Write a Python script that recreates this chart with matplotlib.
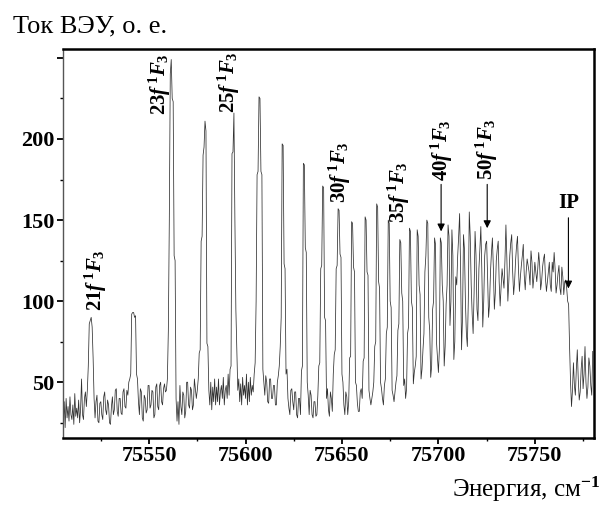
import matplotlib
matplotlib.use('Agg')
import matplotlib.pyplot as plt
from matplotlib.ticker import MultipleLocator
import numpy as np

plt.rcParams['font.family'] = ['Liberation Serif', 'DejaVu Serif']
plt.rcParams['mathtext.fontset'] = 'custom'
plt.rcParams['mathtext.rm'] = 'Liberation Serif:bold'
plt.rcParams['mathtext.it'] = 'Liberation Serif:italic:bold'
plt.rcParams['mathtext.bf'] = 'Liberation Serif:bold'

# spectrum, one reading per 0.5 cm-1 starting at 75505 (rows of 5 cm-1)
e_start = 75505
e_step = 0.5
signal = [
    32, 24, 38, 22, 40, 28, 35, 26, 41, 30,          # 75505
    27, 36, 24, 43, 29, 34, 28, 39, 25, 33,          # 75510
    52, 30, 27, 40, 44, 35, 45, 60, 86, 88,          # 75515
    90, 84, 65, 40, 28, 38, 42, 26, 25, 37,          # 75520
    38, 30, 27, 41, 44, 33, 30, 39, 36, 25,          # 75525
    24, 35, 41, 30, 33, 45, 46, 32, 29, 40,          # 75530
    40, 31, 30, 44, 46, 35, 34, 45, 42, 50,          # 75535
    52, 55, 92, 93, 93, 90, 91, 55, 52, 38,          # 75540
    30, 46, 44, 28, 26, 42, 40, 31, 33, 48,          # 75545
    48, 34, 36, 45, 44, 28, 30, 47, 49, 35,          # 75550
    33, 48, 50, 38, 36, 46, 49, 44, 45, 52,          # 75555
    82, 150, 240, 249, 225, 223, 128, 125, 40, 26,   # 75560
    38, 24, 48, 35, 30, 44, 42, 28, 32, 50,          # 75565
    50, 36, 34, 47, 45, 33, 36, 52, 46, 40,          # 75570
    45, 52, 68, 70, 137, 140, 190, 195, 211, 205,    # 75575
    74, 72, 45, 36, 50, 33, 47, 38, 52, 36,          # 75580
    47, 38, 52, 36, 44, 48, 40, 53, 36, 45,          # 75585
    48, 40, 55, 42, 58, 60, 191, 192, 216, 150,      # 75590
    95, 70, 45, 52, 38, 49, 36, 53, 42, 48,          # 75595
    40, 55, 36, 50, 38, 53, 42, 48, 44, 55,          # 75600
    62, 100, 178, 180, 226, 225, 180, 178, 58, 50,   # 75605
    42, 54, 50, 38, 37, 52, 52, 40, 40, 48,          # 75610
    48, 36, 36, 50, 54, 60, 72, 90, 197, 196,        # 75615
    123, 120, 55, 58, 40, 34, 30, 45, 46, 38,        # 75620
    33, 44, 44, 30, 28, 40, 40, 30, 57, 60,          # 75625
    185, 184, 133, 130, 50, 42, 30, 45, 42, 30,      # 75630
    28, 38, 38, 29, 30, 42, 60, 62, 120, 122,        # 75635
    171, 170, 90, 88, 40, 46, 33, 29, 44, 40,        # 75640
    32, 55, 67, 70, 120, 122, 157, 156, 129, 127,    # 75645
    55, 50, 36, 30, 44, 41, 30, 38, 65, 66,          # 75650
    149, 148, 121, 118, 50, 48, 37, 32, 32, 44,      # 75655
    46, 40, 63, 65, 152, 150, 118, 116, 45, 40,      # 75660
    36, 40, 44, 50, 72, 75, 160, 158, 112, 108,      # 75665
    50, 46, 40, 36, 48, 52, 80, 84, 150, 148,        # 75670
    100, 96, 45, 42, 38, 44, 50, 54, 82, 86,         # 75675
    138, 136, 105, 100, 48, 52, 40, 46, 80, 84,      # 75680
    145, 143, 100, 96, 49, 56, 60, 66, 144, 140,     # 75685
    110, 104, 52, 58, 70, 80, 118, 128, 150, 148,    # 75690
    90, 82, 53, 60, 95, 100, 139, 135, 75, 66,       # 75695
    56, 70, 139, 136, 110, 100, 60, 72, 98, 110,     # 75700
    147, 140, 85, 100, 144, 128, 64, 75, 115, 110,   # 75705
    128, 140, 154, 120, 70, 90, 141, 132, 100, 80,   # 75710
    72, 100, 155, 140, 110, 92, 80, 105, 143, 128,   # 75715
    95, 88, 120, 132, 146, 120, 84, 100, 128, 135,   # 75720
    137, 115, 90, 98, 118, 130, 139, 120, 95, 105,   # 75725
    125, 132, 137, 112, 97, 108, 120, 114, 108, 125,   # 75730
    147, 126, 100, 112, 128, 136, 141, 118, 104, 112,  # 75735
    125, 134, 140, 120, 106, 115, 122, 128, 135, 116,  # 75740
    107, 118, 126, 122, 118, 110, 131, 124, 108, 115,  # 75745
    124, 118, 112, 120, 130, 122, 107, 112, 121, 126,  # 75750
    129, 114, 106, 112, 118, 124, 110, 106, 124, 118,  # 75755
    130, 120, 105, 110, 117, 122, 108, 104, 121, 115,  # 75760
    104, 112, 113, 108, 100, 98, 72, 50, 35, 45,       # 75765
    62, 48, 42, 58, 70, 52, 39, 44, 58, 66,            # 75770
    46, 55, 72, 50, 40, 47, 65, 60, 48, 42,            # 75775
    69,                                                # 75780
]
energy = e_start + e_step * np.arange(len(signal))

# series labels (n of n f 1F3), where they sit
lab_n = ['21', '23', '25', '30', '35', '40', '50']
lab_x = [75522.2, 75555.5, 75591.5, 75648.7, 75679.5, 75701.9, 75725.3]
lab_y = [94, 215, 216, 160.6, 148, 174, 175]
# arrows under 40f and 50f
arr_x = [75701.4, 75725.3]
arr_top = [172, 172]
arr_tip = [143, 145]
ip_x = 75767.4
ip_text_y = 154.5
ip_top = 151.4
ip_tip = 107.8

fig = plt.figure(figsize=(6.06, 5.05), dpi=100)
ax = fig.add_axes([0.104, 0.133, 0.876, 0.770])

ax.plot(energy, signal, color='#303030', lw=0.55)

ax.set_xlim(75505.4, 75780.6)
ax.set_ylim(15.7, 255.5)

ax.set_xticks([75550, 75600, 75650, 75700, 75750])
ax.xaxis.set_minor_locator(MultipleLocator(25))
ax.set_yticks([50, 100, 150, 200, 250], ['50', '100', '150', '200', ''])
ax.yaxis.set_minor_locator(MultipleLocator(25))
ax.tick_params(which='major', direction='out', length=4, width=1.3,
               labelsize=16, pad=2)
ax.tick_params(which='minor', direction='out', length=2, width=1.0)
for lb in ax.get_xticklabels() + ax.get_yticklabels():
    lb.set_fontweight('bold')

for s in ['top', 'right', 'bottom']:
    ax.spines[s].set_linewidth(1.8)
    ax.spines[s].set_color('black')
ax.spines['left'].set_linewidth(1.0)
ax.spines['left'].set_color('#555555')

for n, x, y in zip(lab_n, lab_x, lab_y):
    ax.text(x, y, r'$\mathrm{' + n + r'}f^{\,1}F_{3}$', rotation=90,
            ha='center', va='bottom', fontsize=15)

for x, y0, y1 in zip(arr_x, arr_top, arr_tip):
    ax.annotate('', xy=(x, y1), xytext=(x, y0),
                arrowprops=dict(arrowstyle='-|>', color='black', lw=0.8,
                                mutation_scale=11, shrinkA=0, shrinkB=0))

ax.text(ip_x, ip_text_y, 'IP', ha='center', va='bottom', fontsize=15,
        fontweight='bold')
ax.annotate('', xy=(ip_x, ip_tip), xytext=(ip_x, ip_top),
            arrowprops=dict(arrowstyle='-|>', color='black', lw=0.8,
                            mutation_scale=11, shrinkA=0, shrinkB=0))

fig.text(0.021, 0.935, 'Ток ВЭУ, о. е.', fontsize=19, ha='left', va='baseline')
fig.text(0.99, 0.016, 'Энергия, см$^{-1}$', fontsize=18, ha='right',
         va='baseline')

fig.savefig('out.png', dpi=100)
